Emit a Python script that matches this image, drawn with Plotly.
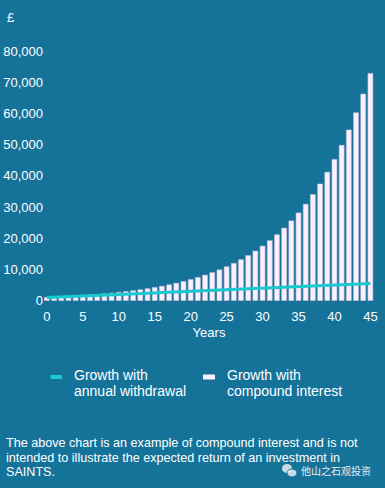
import plotly.graph_objects as go

years = list(range(0, 46))
compound = [1000, 1100, 1210, 1330, 1460, 1610, 1770, 1950, 2140, 2360,
            2590, 2850, 3140, 3450, 3800, 4180, 4590, 5050, 5560, 6120,
            6730, 7400, 8140, 8950, 9850, 10830, 11920, 13110, 14420, 15860,
            17450, 19190, 21110, 23230, 25550, 28100, 30910, 34000, 37400, 41150,
            45260, 49790, 54760, 60240, 66260, 72890]
withdrawal = [1000, 1080, 1170, 1260, 1350, 1450, 1540, 1640, 1740, 1840,
              1940, 2040, 2140, 2240, 2340, 2440, 2540, 2640, 2740, 2840,
              2940, 3040, 3140, 3240, 3340, 3440, 3540, 3640, 3740, 3840,
              3940, 4040, 4140, 4240, 4340, 4440, 4540, 4640, 4740, 4840,
              4940, 5040, 5140, 5240, 5340, 5440]
y_ticks = [0, 10000, 20000, 30000, 40000, 50000, 60000, 70000, 80000]
x_ticks = [0, 5, 10, 15, 20, 25, 30, 35, 40, 45]
legend_withdrawal = ["Growth with", "annual withdrawal"]
legend_compound = ["Growth with", "compound interest"]
footnote = ["The above chart is an example of compound interest and is not",
            "intended to illustrate the expected return of an investment in",
            "SAINTS."]
watermark = "他山之石观投资"

BG = "#15739a"
CYAN = "#18c9cd"
BAR = "#fcefff"
FONT = "Liberation Sans, Arial, sans-serif"

W, H = 385, 488
l, r, t, b = 44, 11, 45, 185
pw, ph = W - l - r, H - t - b


def px(xp):
    return (xp - l) / pw


def py(yp):
    return (H - b - yp) / ph


fig = go.Figure()
fig.add_trace(go.Bar(
    x=years, y=compound, showlegend=False, name=" ".join(legend_compound),
    marker=dict(color=BAR, line=dict(color="#c9c3dc", width=0.6)),
    width=0.68,
))
fig.add_trace(go.Scatter(
    x=years, y=withdrawal, mode="lines", showlegend=False,
    name=" ".join(legend_withdrawal), line=dict(color=CYAN, width=3),
))

annotations = [
    dict(text="£", x=px(5), y=py(17), xanchor="left", yanchor="middle",
         font=dict(size=13, color="white")),
]
# legend text
for i, line in enumerate(legend_withdrawal):
    annotations.append(dict(text=line, x=px(72), y=py(375.4 + 15.7 * i),
                            xanchor="left", yanchor="middle",
                            font=dict(size=14, color="white")))
for i, line in enumerate(legend_compound):
    annotations.append(dict(text=line, x=px(225), y=py(375.4 + 15.7 * i),
                            xanchor="left", yanchor="middle",
                            font=dict(size=14, color="white")))
# footnote
for i, line in enumerate(footnote):
    annotations.append(dict(text=line, x=px(4), y=py(443.3 + 14.3 * i),
                            xanchor="left", yanchor="middle",
                            font=dict(size=12.6, color="white")))
annotations.append(dict(text=watermark, x=px(373), y=py(470.5),
                        xanchor="right", yanchor="middle",
                        font=dict(size=10, color="#e8eef2",
                                  family="Noto Sans CJK SC")))
for a in annotations:
    a.update(xref="paper", yref="paper", showarrow=False)

shapes = [
    # legend symbols
    dict(type="rect", x0=px(50.5), x1=px(62), y0=py(379), y1=py(375),
         fillcolor=CYAN, line=dict(width=0)),
    dict(type="rect", x0=px(203), x1=px(215), y0=py(379.5), y1=py(374.5),
         fillcolor=BAR, line=dict(width=0)),
    # watermark icon (two speech bubbles)
    dict(type="circle", x0=px(282), x1=px(292), y0=py(473), y1=py(464),
         fillcolor="rgba(230,236,240,0.85)", line=dict(width=0)),
    dict(type="circle", x0=px(287), x1=px(297), y0=py(477), y1=py(469),
         fillcolor="rgba(230,236,240,0.85)", line=dict(color=BG, width=1)),
]
for s in shapes:
    s.update(xref="paper", yref="paper")

fig.update_layout(
    width=W, height=H,
    paper_bgcolor=BG, plot_bgcolor=BG,
    margin=dict(l=l, r=r, t=t, b=b, autoexpand=False),
    font=dict(family=FONT, color="white", size=13),
    showlegend=False,
    xaxis=dict(
        range=[-0.4, 45.5], tickvals=x_ticks, showgrid=False, zeroline=False,
        showline=False, ticks="", automargin=False, ticklabelstandoff=4,
        tickfont=dict(size=13, color="white"),
        title=dict(text="Years", font=dict(size=13, color="white"), standoff=4),
    ),
    yaxis=dict(
        range=[-800, 82000], tickvals=y_ticks, tickformat=",",
        showgrid=False, zeroline=False, showline=False, ticks="",
        automargin=False, tickfont=dict(size=13, color="white"),
    ),
    annotations=annotations,
    shapes=shapes,
)

fig.write_html("out.html", config={"displayModeBar": False},
               post_script="document.body.style.margin='0';")
